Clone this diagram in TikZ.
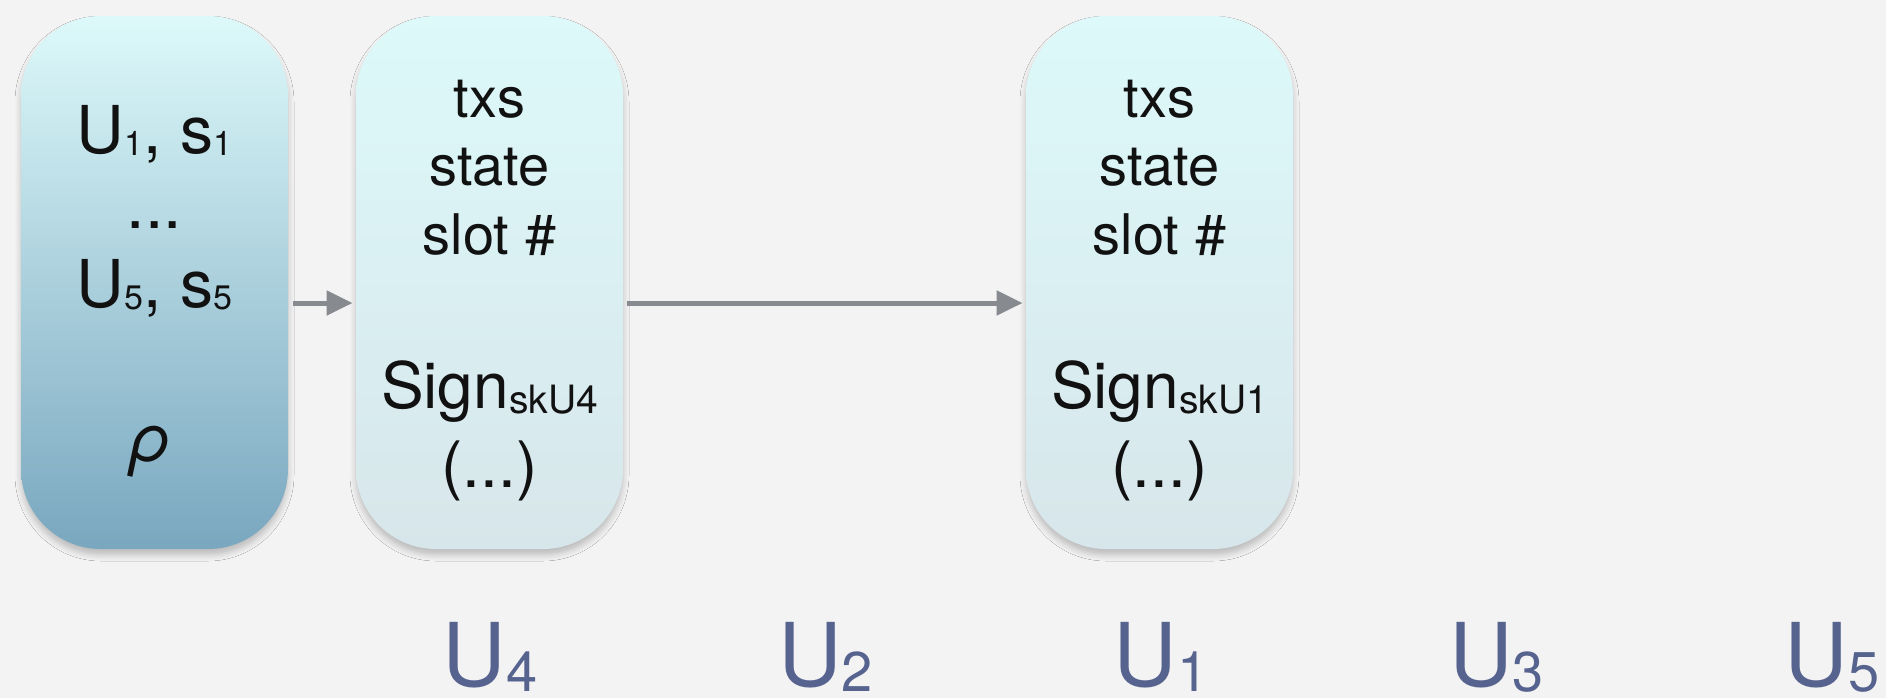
\documentclass[tikz,border=0pt]{standalone}
\usepackage{fontspec}
\setmainfont{TeX Gyre Heros}
\usetikzlibrary{arrows.meta,shadows.blur}

\definecolor{canvas}{HTML}{F3F3F3}
\definecolor{seedtop}{HTML}{DDF9FA}
\definecolor{seedbot}{HTML}{79A7BF}
\definecolor{blocktop}{HTML}{DDF9FA}
\definecolor{blockbot}{HTML}{D7E6EA}
\definecolor{linkgray}{HTML}{878A8F}
\definecolor{userblue}{HTML}{56638F}
\definecolor{ink}{HTML}{111111}

% lowered subscript: #1 drop, #2 font size, #3 text
\newcommand\lowsub[3]{\raisebox{-#1}{\fontsize{#2}{#2}\selectfont #3}}

\begin{document}
\begin{tikzpicture}[x=0.5pt,y=-0.5pt,
  card/.style={rounded corners=40pt, minimum width=133.5pt, minimum height=266.5pt,
    inner sep=0pt,
    blur shadow={shadow xshift=0pt, shadow yshift=-3pt, shadow blur radius=3pt, shadow opacity=22}},
  seed/.style={card, top color=seedtop, bottom color=seedbot},
  block/.style={card, top color=blocktop, bottom color=blockbot},
  line/.style={anchor=base, inner sep=0pt, text=ink},
  big/.style={line, font=\fontsize{33}{33}\selectfont},
  mid/.style={line, font=\fontsize{28}{28}\selectfont},
  sig/.style={line, font=\fontsize{32}{32}\selectfont},
  user/.style={anchor=base, inner sep=0pt, text=userblue, font=\fontsize{44}{44}\selectfont},
  link/.style={draw=linkgray, line width=2.5pt, -{Triangle[length=13pt,width=12pt]}}]

\fill[canvas] (0,0) rectangle (1886,698);
\useasboundingbox (0,0) rectangle (1886,698);

% cards
\node[seed]  (seed) at (154.5,282.5) {};
\node[block] (blkA) at (489.5,282.5) {};
\node[block] (blkB) at (1159.5,282.5) {};

% genesis card contents
\node[big] (s1) at (154.5,153) {U\lowsub{1pt}{17}{1}, s\lowsub{1pt}{17}{1}};
\node[big] (s2) at (154.5,228) {...};
\node[big] (s3) at (154.5,307) {U\lowsub{1pt}{17}{5}, s\lowsub{1pt}{17}{5}};
\node[big] (s4) at (151,461) {\itshape ρ};

% first block contents
\node[mid] (a1) at (489.5,117) {txs};
\node[mid] (a2) at (489.5,185) {state};
\node[mid] (a3) at (489.5,254) {slot \#};
\node[sig] (a4) at (489.5,408) {Sign\lowsub{2.5pt}{19.5}{skU4}};
\node[sig] (a5) at (489.5,487) {(...)};

% second block contents
\node[mid] (b1) at (1159.5,117) {txs};
\node[mid] (b2) at (1159.5,185) {state};
\node[mid] (b3) at (1159.5,254) {slot \#};
\node[sig] (b4) at (1159.5,408) {Sign\lowsub{2.5pt}{19.5}{skU1}};
\node[sig] (b5) at (1159.5,487) {(...)};

% chain links
\draw[link] ([xshift=2.5pt,yshift=-10.25pt]seed.east) -- ([xshift=-1.5pt,yshift=-10.25pt]blkA.west);
\draw[link] ([xshift=2pt,yshift=-10.25pt]blkA.east) -- ([xshift=-1.5pt,yshift=-10.25pt]blkB.west);

% slot leaders
\node[user] (u4) at (490,686)    {U\lowsub{2.5pt}{28}{4}};
\node[user] (u2) at (825.5,686)  {U\lowsub{2.5pt}{28}{2}};
\node[user] (u1) at (1161,686)   {U\lowsub{2.5pt}{28}{1}};
\node[user] (u3) at (1496.5,686) {U\lowsub{2.5pt}{28}{3}};
\node[user] (u5) at (1832,686)   {U\lowsub{2.5pt}{28}{5}};
\end{tikzpicture}
\end{document}
